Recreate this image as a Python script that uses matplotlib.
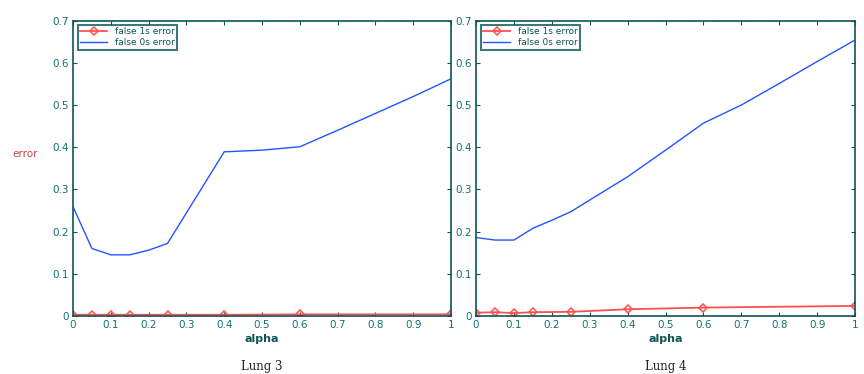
import numpy as np
import matplotlib
matplotlib.use("Agg")
import matplotlib.pyplot as plt

# data
alpha_l3 = [0, 0.05, 0.1, 0.15, 0.2, 0.25, 0.4, 0.5, 0.55, 0.6, 0.7, 0.8, 0.9, 1.0]
false0_l3 = [0.259, 0.160, 0.145, 0.145, 0.156, 0.172, 0.389, 0.393, 0.397, 0.401, 0.44, 0.48, 0.52, 0.562]
alpha1_l3 = [0, 0.05, 0.1, 0.15, 0.25, 0.4, 0.6, 1.0]
false1_l3 = [0.003, 0.003, 0.003, 0.003, 0.003, 0.003, 0.004, 0.004]

alpha_l4 = [0, 0.05, 0.1, 0.15, 0.2, 0.25, 0.3, 0.4, 0.5, 0.6, 0.7, 0.8, 0.9, 1.0]
false0_l4 = [0.186, 0.180, 0.180, 0.208, 0.227, 0.247, 0.275, 0.330, 0.393, 0.457, 0.500, 0.551, 0.603, 0.654]
alpha1_l4 = [0, 0.05, 0.1, 0.15, 0.25, 0.4, 0.6, 1.0]
false1_l4 = [0.008, 0.009, 0.007, 0.009, 0.010, 0.016, 0.020, 0.024]

titles = ["Lung 3", "Lung 4"]
xticks = np.arange(0, 1.01, 0.1)
xticklabels = ["0", "0.1", "0.2", "0.3", "0.4", "0.5", "0.6", "0.7", "0.8", "0.9", "1"]
yticks = np.arange(0, 0.71, 0.1)
yticklabels = ["0", "0.1", "0.2", "0.3", "0.4", "0.5", "0.6", "0.7"]

frame_col = "#0d5555"
text_col = "#137070"
red = "#ff5050"
blue = "#2255ff"

fig = plt.figure(figsize=(8.64, 3.74), dpi=100)
ax1 = fig.add_axes([0.0845, 0.155, 0.4375, 0.79])
ax2 = fig.add_axes([0.551, 0.155, 0.4387, 0.79])

panels = [
    (ax1, alpha1_l3, false1_l3, alpha_l3, false0_l3, titles[0]),
    (ax2, alpha1_l4, false1_l4, alpha_l4, false0_l4, titles[1]),
]

for ax, a1, f1, a0, f0, ttl in panels:
    ax.plot(a1, f1, color=red, lw=1.3, marker="D", ms=4, mfc="none",
            mec=red, mew=1.1, label="false 1s error")
    ax.plot(a0, f0, color=blue, lw=1.0, label="false 0s error")
    ax.set_xlim(0, 1)
    ax.set_ylim(0, 0.7)
    ax.set_xticks(xticks)
    ax.set_xticklabels(xticklabels)
    ax.set_yticks(yticks)
    ax.set_yticklabels(yticklabels)
    ax.tick_params(direction="in", length=3, top=True, right=True,
                   labelsize=7.5, labelcolor=text_col, color=frame_col, pad=3)
    for sp in ax.spines.values():
        sp.set_color(frame_col)
        sp.set_linewidth(1.2)
    ax.set_xlabel("alpha", fontsize=8, color=frame_col, labelpad=3, fontweight="bold")
    ax.text(0.5, -0.172, ttl, transform=ax.transAxes, ha="center", va="center",
            family="DejaVu Serif", fontsize=8.5, color="#222222")
    leg = ax.legend(loc="upper left", fontsize=6.5, frameon=True, fancybox=False,
                    borderpad=0.3, labelspacing=0.2, handlelength=3.0,
                    bbox_to_anchor=(0.005, 0.995), borderaxespad=0.3)
    leg.get_frame().set_edgecolor(frame_col)
    leg.get_frame().set_linewidth(1.5)
    for t in leg.get_texts():
        t.set_color(frame_col)

ax1.text(-0.127, 0.55, "error", transform=ax1.transAxes, ha="center", va="center",
         fontsize=7.5, color="#cc4444")

fig.savefig("out.png", dpi=100)
